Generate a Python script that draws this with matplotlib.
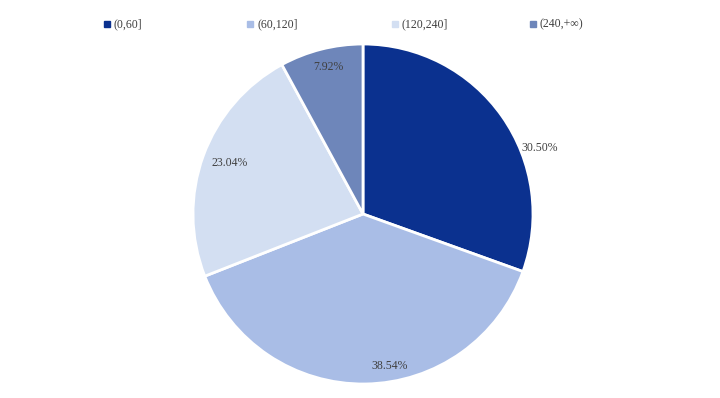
import numpy as np
import matplotlib
matplotlib.use('Agg')
import matplotlib.pyplot as plt
from matplotlib.lines import Line2D

plt.rcParams['font.family'] = ['Liberation Serif', 'DejaVu Serif']

# Data
categories = ['(0,60]', '(60,120]', '(120,240]', '(240,+\u221e)']
shares = [30.50, 38.54, 23.04, 7.92]
colors = ['#0B318F', '#A9BDE6', '#D3DFF2', '#6E86BA']
txt_color = '#404040'

fig = plt.figure(figsize=(7.2, 3.98), dpi=100)
ax = fig.add_axes([193/720, 14/398, 340/720, 340/398])

wedges, _ = ax.pie(shares, colors=colors, startangle=90, counterclock=False,
                   radius=1, wedgeprops=dict(edgecolor='white', linewidth=2))
ax.set_xlim(-1, 1)
ax.set_ylim(-1, 1)
ax.set_aspect('auto')
ax.axis('off')

# label placement (radius fraction, angle shift from wedge middle)
lab_r = [1.11, 0.91, 0.84, 0.89]
lab_shift = [-14.5, 9, -1, -1]
for w, v, r, s in zip(wedges, shares, lab_r, lab_shift):
    ang = np.deg2rad((w.theta1 + w.theta2) / 2 + s)
    ax.text(r * np.cos(ang), r * np.sin(ang), '%.2f%%' % v, ha='center', va='center',
            fontsize=8.5, color=txt_color, clip_on=False)

# legend across the top
leg_x = [107, 250, 395, 533]
for x, c, lab in zip(leg_x, colors, categories):
    fig.add_artist(Line2D([x / 720], [1 - 24 / 398], marker='s', markersize=3.8,
                          color=c, linestyle='none', transform=fig.transFigure))
    fig.text((x + 7) / 720, 1 - 24 / 398, lab, ha='left', va='center',
             fontsize=8.6, color=txt_color)

plt.savefig('out.png', dpi=100)
